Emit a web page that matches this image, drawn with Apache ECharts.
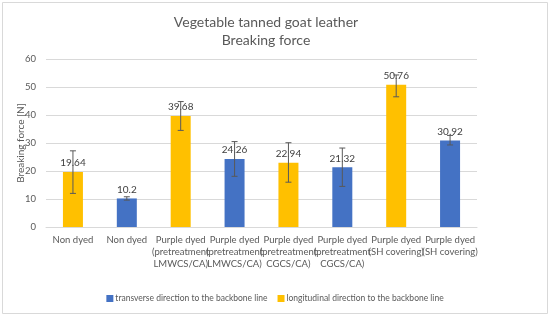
<!DOCTYPE html>
<html>
<head>
<meta charset="utf-8">
<script src="https://cdn.jsdelivr.net/npm/echarts@6/dist/echarts.min.js"></script>
<style>
  html, body { margin: 0; padding: 0; background: #fff; }
  #container { width: 550px; height: 317px; }
</style>
</head>
<body>
<div id="container"></div>
<script>
// categories as printed under the axis (Excel wrapped them)
var categories = [
    'Non dyed',
    'Non dyed',
    'Purple dyed\n(pretreatment\nLMWCS/CA)',
    'Purple dyed\n(pretreatment\nLMWCS/CA)',
    'Purple dyed\n(pretreatment\nCGCS/CA)',
    'Purple dyed\n(pretreatment\nCGCS/CA)',
    'Purple dyed\n(SH covering)',
    'Purple dyed\n(SH covering)'
];
var transverse = ['-', 10.2, '-', 24.26, '-', 21.32, '-', 30.92];
var longitudinal = [19.64, '-', 39.68, '-', 22.94, '-', 50.76, '-'];
// error bar ends
var errLow = [12.0, 9.6, 34.5, 18.1, 16.0, 14.5, 46.5, 29.3];
var errHigh = [27.2, 10.8, 44.8, 30.5, 30.1, 28.2, 54.3, 32.7];
var yTicks = [0, 10, 20, 30, 40, 50, 60];

var font = 'Lato, "Open Sans", sans-serif';
var grey = '#595959';

var errData = categories.map(function(c, i) {
    return [i, errLow[i], errHigh[i]];
});

var myChart = echarts.init(document.getElementById('container'));
myChart.setOption({
    animation: false,
    backgroundColor: '#fff',
    textStyle: { fontFamily: font },
    graphic: [{
        type: 'rect',
        shape: { x: 2.5, y: 2.5, width: 545, height: 311 },
        style: { fill: 'none', stroke: '#d9d9d9', lineWidth: 1 },
        silent: true
    }],
    title: {
        text: 'Vegetable tanned goat leather\nBreaking force',
        left: 261,
        top: 8,
        textAlign: 'center',
        textStyle: {
            fontFamily: font,
            fontSize: 14,
            fontWeight: 'normal',
            color: grey,
            lineHeight: 18
        }
    },
    legend: {
        bottom: 9,
        left: 'center',
        itemWidth: 7,
        itemHeight: 7,
        itemGap: 10,
        icon: 'rect',
        textStyle: { fontFamily: font, fontSize: 8.5, color: grey, padding: [0, 0, 0, -3] },
        data: ['transverse direction to the backbone line', 'longitudinal direction to the backbone line']
    },
    grid: { left: 46, right: 73, top: 59, bottom: 90, containLabel: false, outerBoundsMode: 'none' },
    xAxis: {
        type: 'category',
        data: categories,
        axisTick: { show: false },
        axisLine: { lineStyle: { color: '#d9d9d9' } },
        axisLabel: {
            interval: 0,
            color: grey,
            fontSize: 9.5,
            lineHeight: 12,
            margin: 7
        }
    },
    yAxis: {
        type: 'value',
        min: yTicks[0],
        max: yTicks[yTicks.length - 1],
        interval: 10,
        name: 'Breaking force [N]',
        nameLocation: 'middle',
        nameGap: 20,
        nameMoveOverlap: false,
        nameTextStyle: { color: grey, fontSize: 10 },
        axisLine: { show: false },
        axisTick: { show: false },
        axisLabel: { color: grey, fontSize: 9.5, margin: 10 },
        splitLine: { lineStyle: { color: '#d9d9d9' } }
    },
    series: [{
        name: 'transverse direction to the backbone line',
        type: 'bar',
        data: transverse,
        barWidth: 20,
        barGap: '-100%',
        itemStyle: { color: '#4472C4' },
        label: { show: true, position: 'top', color: '#404040', fontSize: 10, distance: 4 }
    }, {
        name: 'longitudinal direction to the backbone line',
        type: 'bar',
        data: longitudinal,
        barWidth: 20,
        barGap: '-100%',
        itemStyle: { color: '#FFC000' },
        label: { show: true, position: 'top', color: '#404040', fontSize: 10, distance: 4 }
    }, {
        type: 'custom',
        name: 'error',
        data: errData,
        z: 10,
        renderItem: function(params, api) {
            var x = api.value(0);
            var lo = api.coord([x, api.value(1)]);
            var hi = api.coord([x, api.value(2)]);
            var cap = 3;
            var style = { stroke: '#595959', lineWidth: 1 };
            return {
                type: 'group',
                children: [
                    { type: 'line', shape: { x1: lo[0], y1: lo[1], x2: hi[0], y2: hi[1] }, style: style },
                    { type: 'line', shape: { x1: lo[0] - cap, y1: lo[1], x2: lo[0] + cap, y2: lo[1] }, style: style },
                    { type: 'line', shape: { x1: hi[0] - cap, y1: hi[1], x2: hi[0] + cap, y2: hi[1] }, style: style }
                ]
            };
        }
    }]
});
</script>
</body>
</html>
